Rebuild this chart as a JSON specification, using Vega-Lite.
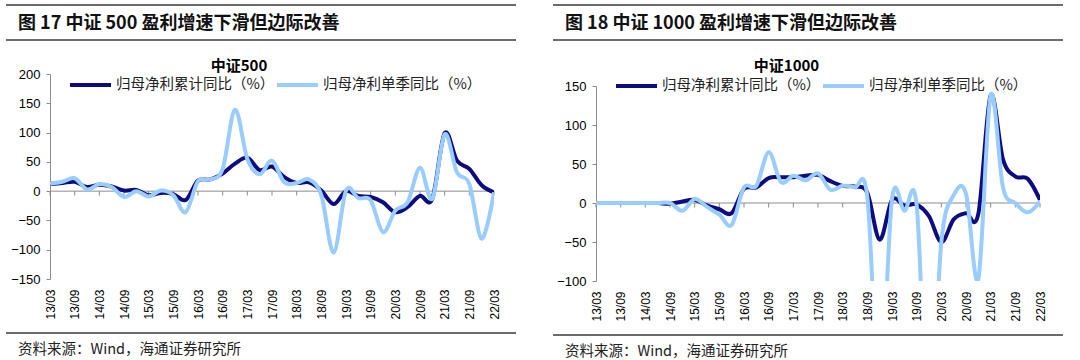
{
  "$schema": "https://vega.github.io/schema/vega-lite/v6.json",
  "padding": {"left": 5, "top": 4, "right": 0, "bottom": 0},
  "background": "white",
  "config": {"view": {"stroke": null}, "font": "Liberation Sans", "axis": {"labelOverlap": false}, "axisY": {"labelOverlap": false}, "axisQuantitative": {"labelOverlap": false}},
  "datasets": {
    "c500": [
      {"q": "13/03", "cum": 12.5, "sq": 13}, {"q": "13/06", "cum": 14, "sq": 16}, {"q": "13/09", "cum": 16, "sq": 22}, {"q": "13/12", "cum": 7, "sq": 3},
      {"q": "14/03", "cum": 11, "sq": 12}, {"q": "14/06", "cum": 8, "sq": 7}, {"q": "14/09", "cum": 1, "sq": -10}, {"q": "14/12", "cum": 2, "sq": 0},
      {"q": "15/03", "cum": -7, "sq": -9}, {"q": "15/06", "cum": -3, "sq": 1}, {"q": "15/09", "cum": -5, "sq": -7}, {"q": "15/12", "cum": -15, "sq": -36},
      {"q": "16/03", "cum": 18, "sq": 17}, {"q": "16/06", "cum": 20, "sq": 20}, {"q": "16/09", "cum": 30, "sq": 38}, {"q": "16/12", "cum": 47, "sq": 139},
      {"q": "17/03", "cum": 57, "sq": 55}, {"q": "17/06", "cum": 36, "sq": 29}, {"q": "17/09", "cum": 42, "sq": 52}, {"q": "17/12", "cum": 24, "sq": 15},
      {"q": "18/03", "cum": 14, "sq": 14}, {"q": "18/06", "cum": 15, "sq": 20}, {"q": "18/09", "cum": 1, "sq": -7}, {"q": "18/12", "cum": -22, "sq": -105},
      {"q": "19/03", "cum": 0, "sq": 1}, {"q": "19/06", "cum": -8, "sq": -12}, {"q": "19/09", "cum": -10, "sq": -16}, {"q": "19/12", "cum": -19, "sq": -70},
      {"q": "20/03", "cum": -36, "sq": -33}, {"q": "20/06", "cum": -27, "sq": -19}, {"q": "20/09", "cum": -8, "sq": 40}, {"q": "20/12", "cum": -13, "sq": -13},
      {"q": "21/03", "cum": 99, "sq": 97}, {"q": "21/06", "cum": 52, "sq": 32}, {"q": "21/09", "cum": 38, "sq": 12}, {"q": "21/12", "cum": 10, "sq": -81},
      {"q": "22/03", "cum": -2, "sq": -2}
    ],
    "c1000": [
      {"q": "13/03", "cum": 0, "sq": 0}, {"q": "13/06", "cum": 0, "sq": 0}, {"q": "13/09", "cum": 0, "sq": 0}, {"q": "13/12", "cum": 0, "sq": 0},
      {"q": "14/03", "cum": 0, "sq": 0}, {"q": "14/06", "cum": 0, "sq": 0}, {"q": "14/09", "cum": -1, "sq": 0}, {"q": "14/12", "cum": 2, "sq": -10},
      {"q": "15/03", "cum": 4, "sq": 5}, {"q": "15/06", "cum": -3, "sq": -5}, {"q": "15/09", "cum": -8, "sq": -15}, {"q": "15/12", "cum": -13, "sq": -28},
      {"q": "16/03", "cum": 18, "sq": 20}, {"q": "16/06", "cum": 20, "sq": 22}, {"q": "16/09", "cum": 32, "sq": 65}, {"q": "16/12", "cum": 33, "sq": 27},
      {"q": "17/03", "cum": 33, "sq": 35}, {"q": "17/06", "cum": 35, "sq": 29}, {"q": "17/09", "cum": 36, "sq": 38}, {"q": "17/12", "cum": 28, "sq": 17},
      {"q": "18/03", "cum": 22, "sq": 22}, {"q": "18/06", "cum": 21, "sq": 20}, {"q": "18/09", "cum": 13, "sq": 8}, {"q": "18/12", "cum": -47, "sq": -250},
      {"q": "19/03", "cum": 4, "sq": 5}, {"q": "19/06", "cum": -3, "sq": -10}, {"q": "19/09", "cum": -2, "sq": -3}, {"q": "19/12", "cum": -17, "sq": -300},
      {"q": "20/03", "cum": -50, "sq": -50}, {"q": "20/06", "cum": -21, "sq": 10}, {"q": "20/09", "cum": -13, "sq": 12}, {"q": "20/12", "cum": -14, "sq": -97},
      {"q": "21/03", "cum": 138, "sq": 138}, {"q": "21/06", "cum": 56, "sq": 20}, {"q": "21/09", "cum": 34, "sq": 0}, {"q": "21/12", "cum": 31, "sq": -12},
      {"q": "22/03", "cum": 4, "sq": 2}
    ]
  },
  "spacing": 35,
  "resolve": {"scale": {"color": "independent"}, "legend": {"color": "independent"}},
  "hconcat": [
    {
      "spacing": 12,
      "resolve": {"scale": {"color": "independent"}, "legend": {"color": "independent"}},
      "vconcat": [
        {
          "width": 510, "height": 42,
          "data": {"values": [{"t": "图 17 中证 500 盈利增速下滑但边际改善"}]},
          "layer": [
            {"mark": {"type": "rule", "color": "#3a3a3a", "strokeWidth": 1.4}, "encoding": {"y": {"datum": 42, "type": "quantitative", "scale": {"domain": [0, 42]}, "axis": null}}},
            {"mark": {"type": "rule", "color": "#3a3a3a", "strokeWidth": 1.4}, "encoding": {"y": {"datum": 7, "type": "quantitative", "scale": {"domain": [0, 42]}, "axis": null}}},
            {"mark": {"type": "text", "align": "left", "baseline": "middle", "font": "Noto Sans CJK SC", "fontSize": 18, "fontWeight": "bold", "color": "#111"},
             "encoding": {"text": {"field": "t"}, "x": {"datum": 12, "type": "quantitative", "scale": {"domain": [0, 510]}, "axis": null}, "y": {"datum": 23, "type": "quantitative", "scale": {"domain": [0, 42]}, "axis": null}}}
          ]
        },
        {
          "width": 488, "height": 205,
          "title": {"text": "中证500", "font": "Noto Sans CJK SC", "fontSize": 15, "fontWeight": "bold", "color": "#000", "offset": -6, "dx": -11, "frame": "group"},
          "data": {"name": "c500"},
          "layer": [
            {"transform": [{"filter": "datum.q == '13/03'"}], "mark": {"type": "rule", "color": "#8c8c8c", "strokeWidth": 1},
             "encoding": {
               "x": {"datum": "13/03", "type": "ordinal", "scale": {"type": "point", "padding": 0, "range": [44, 488]}},
               "x2": {"datum": "22/03"},
               "y": {"datum": 0, "type": "quantitative", "scale": {"domain": [-150, 200], "nice": false}, "axis": {"values": [-150, -100, -50, 0, 50, 100, 150, 200], "labelOverlap": false, "grid": false, "offset": -44, "domainColor": "#8c8c8c", "tickColor": "#8c8c8c", "tickSize": 4, "labelPadding": 6, "labelFontSize": 13, "labelColor": "#000", "title": null}}}},
            {"transform": [{"filter": "substring(datum.q, 3, 5) == '03' || substring(datum.q, 3, 5) == '09'"}], "mark": {"type": "rule", "color": "#8c8c8c", "strokeWidth": 1},
             "encoding": {
               "x": {"field": "q", "type": "ordinal", "scale": {"type": "point", "padding": 0, "range": [44, 488]}, "axis": {"values": ["13/03","13/09","14/03","14/09","15/03","15/09","16/03","16/09","17/03","17/09","18/03","18/09","19/03","19/09","20/03","20/09","21/03","21/09","22/03"], "domain": false, "ticks": false, "labelAngle": -90, "labelPadding": 10, "labelFontSize": 12, "labelColor": "#000", "title": null}},
               "y": {"datum": 0, "type": "quantitative", "scale": {"domain": [-150, 200], "nice": false}, "axis": {"values": [-150, -100, -50, 0, 50, 100, 150, 200], "labelOverlap": false, "grid": false, "offset": -44, "domainColor": "#8c8c8c", "tickColor": "#8c8c8c", "tickSize": 4, "labelPadding": 6, "labelFontSize": 13, "labelColor": "#000", "title": null}},
               "y2": {"datum": -7.5}}},
            {"mark": {"type": "line", "interpolate": "cardinal", "strokeWidth": 4, "clip": true},
             "encoding": {
               "x": {"field": "q", "type": "ordinal", "scale": {"type": "point", "padding": 0, "range": [44, 488]}, "axis": {"values": ["13/03","13/09","14/03","14/09","15/03","15/09","16/03","16/09","17/03","17/09","18/03","18/09","19/03","19/09","20/03","20/09","21/03","21/09","22/03"], "domain": false, "ticks": false, "labelAngle": -90, "labelPadding": 10, "labelFontSize": 12, "labelColor": "#000", "title": null}},
               "y": {"field": "cum", "type": "quantitative", "scale": {"domain": [-150, 200], "nice": false}, "axis": {"values": [-150, -100, -50, 0, 50, 100, 150, 200], "labelOverlap": false, "grid": false, "offset": -44, "domainColor": "#8c8c8c", "tickColor": "#8c8c8c", "tickSize": 4, "labelPadding": 6, "labelFontSize": 13, "labelColor": "#000", "title": null}},
               "color": {"datum": "归母净利累计同比（%）", "type": "nominal", "scale": {"domain": ["归母净利累计同比（%）", "归母净利单季同比（%）"], "range": ["#0c0c80", "#99ccff"]},
                 "legend": {"orient": "none", "legendX": 62, "legendY": 3, "direction": "horizontal", "title": null, "symbolType": "stroke", "symbolStrokeWidth": 4, "symbolSize": 1681, "clipHeight": 16, "labelFont": "Noto Sans CJK SC", "labelFontSize": 14.5, "labelColor": "#222", "columnPadding": -10, "labelOffset": 3, "padding": 0}}}},
            {"mark": {"type": "line", "interpolate": "cardinal", "strokeWidth": 4, "clip": true},
             "encoding": {
               "x": {"field": "q", "type": "ordinal", "scale": {"type": "point", "padding": 0, "range": [44, 488]}, "axis": {"values": ["13/03","13/09","14/03","14/09","15/03","15/09","16/03","16/09","17/03","17/09","18/03","18/09","19/03","19/09","20/03","20/09","21/03","21/09","22/03"], "domain": false, "ticks": false, "labelAngle": -90, "labelPadding": 10, "labelFontSize": 12, "labelColor": "#000", "title": null}},
               "y": {"field": "sq", "type": "quantitative", "scale": {"domain": [-150, 200], "nice": false}, "axis": {"values": [-150, -100, -50, 0, 50, 100, 150, 200], "labelOverlap": false, "grid": false, "offset": -44, "domainColor": "#8c8c8c", "tickColor": "#8c8c8c", "tickSize": 4, "labelPadding": 6, "labelFontSize": 13, "labelColor": "#000", "title": null}},
               "color": {"datum": "归母净利单季同比（%）", "type": "nominal"}}}
          ]
        },
        {
          "width": 510, "height": 26,
          "data": {"values": [{"t": "资料来源：Wind，海通证券研究所"}]},
          "layer": [
            {"mark": {"type": "rule", "color": "#3a3a3a", "strokeWidth": 1.4}, "encoding": {"y": {"datum": 26, "type": "quantitative", "scale": {"domain": [0, 26]}, "axis": null}}},
            {"mark": {"type": "text", "align": "left", "baseline": "middle", "font": "Noto Sans CJK SC", "fontSize": 14.5, "color": "#222"},
             "encoding": {"text": {"field": "t"}, "x": {"datum": 12, "type": "quantitative", "scale": {"domain": [0, 510]}, "axis": null}, "y": {"datum": 9, "type": "quantitative", "scale": {"domain": [0, 26]}, "axis": null}}}
          ]
        }
      ]
    },
    {
      "spacing": 12,
      "resolve": {"scale": {"color": "independent"}, "legend": {"color": "independent"}},
      "vconcat": [
        {
          "width": 510, "height": 42,
          "data": {"values": [{"t": "图 18 中证 1000 盈利增速下滑但边际改善"}]},
          "layer": [
            {"mark": {"type": "rule", "color": "#3a3a3a", "strokeWidth": 1.4}, "encoding": {"y": {"datum": 42, "type": "quantitative", "scale": {"domain": [0, 42]}, "axis": null}}},
            {"mark": {"type": "rule", "color": "#3a3a3a", "strokeWidth": 1.4}, "encoding": {"y": {"datum": 7, "type": "quantitative", "scale": {"domain": [0, 42]}, "axis": null}}},
            {"mark": {"type": "text", "align": "left", "baseline": "middle", "font": "Noto Sans CJK SC", "fontSize": 18, "fontWeight": "bold", "color": "#111"},
             "encoding": {"text": {"field": "t"}, "x": {"datum": 12, "type": "quantitative", "scale": {"domain": [0, 510]}, "axis": null}, "y": {"datum": 23, "type": "quantitative", "scale": {"domain": [0, 42]}, "axis": null}}}
          ]
        },
        {
          "width": 487, "height": 195,
          "title": {"text": "中证1000", "font": "Noto Sans CJK SC", "fontSize": 15, "fontWeight": "bold", "color": "#000", "offset": 4, "dx": -10, "frame": "group"},
          "data": {"name": "c1000"},
          "layer": [
            {"transform": [{"filter": "datum.q == '13/03'"}], "mark": {"type": "rule", "color": "#8c8c8c", "strokeWidth": 1},
             "encoding": {
               "x": {"datum": "13/03", "type": "ordinal", "scale": {"type": "point", "padding": 0, "range": [43, 487]}},
               "x2": {"datum": "22/03"},
               "y": {"datum": 0, "type": "quantitative", "scale": {"domain": [-100, 150], "nice": false}, "axis": {"values": [-100, -50, 0, 50, 100, 150], "labelOverlap": false, "grid": false, "offset": -43, "domainColor": "#8c8c8c", "tickColor": "#8c8c8c", "tickSize": 4, "labelPadding": 6, "labelFontSize": 13, "labelColor": "#000", "title": null}}}},
            {"transform": [{"filter": "substring(datum.q, 3, 5) == '03' || substring(datum.q, 3, 5) == '09'"}], "mark": {"type": "rule", "color": "#8c8c8c", "strokeWidth": 1},
             "encoding": {
               "x": {"field": "q", "type": "ordinal", "scale": {"type": "point", "padding": 0, "range": [43, 487]}, "axis": {"values": ["13/03","13/09","14/03","14/09","15/03","15/09","16/03","16/09","17/03","17/09","18/03","18/09","19/03","19/09","20/03","20/09","21/03","21/09","22/03"], "domain": false, "ticks": false, "labelAngle": -90, "labelPadding": 10, "labelFontSize": 12, "labelColor": "#000", "title": null}},
               "y": {"datum": 0, "type": "quantitative", "scale": {"domain": [-100, 150], "nice": false}, "axis": {"values": [-100, -50, 0, 50, 100, 150], "labelOverlap": false, "grid": false, "offset": -43, "domainColor": "#8c8c8c", "tickColor": "#8c8c8c", "tickSize": 4, "labelPadding": 6, "labelFontSize": 13, "labelColor": "#000", "title": null}},
               "y2": {"datum": -5.8}}},
            {"mark": {"type": "line", "interpolate": "cardinal", "strokeWidth": 4, "clip": true},
             "encoding": {
               "x": {"field": "q", "type": "ordinal", "scale": {"type": "point", "padding": 0, "range": [43, 487]}, "axis": {"values": ["13/03","13/09","14/03","14/09","15/03","15/09","16/03","16/09","17/03","17/09","18/03","18/09","19/03","19/09","20/03","20/09","21/03","21/09","22/03"], "domain": false, "ticks": false, "labelAngle": -90, "labelPadding": 10, "labelFontSize": 12, "labelColor": "#000", "title": null}},
               "y": {"field": "cum", "type": "quantitative", "scale": {"domain": [-100, 150], "nice": false}, "axis": {"values": [-100, -50, 0, 50, 100, 150], "labelOverlap": false, "grid": false, "offset": -43, "domainColor": "#8c8c8c", "tickColor": "#8c8c8c", "tickSize": 4, "labelPadding": 6, "labelFontSize": 13, "labelColor": "#000", "title": null}},
               "color": {"datum": "归母净利累计同比（%）", "type": "nominal", "scale": {"domain": ["归母净利累计同比（%）", "归母净利单季同比（%）"], "range": ["#0c0c80", "#99ccff"]},
                 "legend": {"orient": "none", "legendX": 61, "legendY": -8, "direction": "horizontal", "title": null, "symbolType": "stroke", "symbolStrokeWidth": 4, "symbolSize": 1681, "clipHeight": 16, "labelFont": "Noto Sans CJK SC", "labelFontSize": 14.5, "labelColor": "#222", "columnPadding": -10, "labelOffset": 3, "padding": 0}}}},
            {"mark": {"type": "line", "interpolate": "cardinal", "strokeWidth": 4, "clip": true},
             "encoding": {
               "x": {"field": "q", "type": "ordinal", "scale": {"type": "point", "padding": 0, "range": [43, 487]}, "axis": {"values": ["13/03","13/09","14/03","14/09","15/03","15/09","16/03","16/09","17/03","17/09","18/03","18/09","19/03","19/09","20/03","20/09","21/03","21/09","22/03"], "domain": false, "ticks": false, "labelAngle": -90, "labelPadding": 10, "labelFontSize": 12, "labelColor": "#000", "title": null}},
               "y": {"field": "sq", "type": "quantitative", "scale": {"domain": [-100, 150], "nice": false}, "axis": {"values": [-100, -50, 0, 50, 100, 150], "labelOverlap": false, "grid": false, "offset": -43, "domainColor": "#8c8c8c", "tickColor": "#8c8c8c", "tickSize": 4, "labelPadding": 6, "labelFontSize": 13, "labelColor": "#000", "title": null}},
               "color": {"datum": "归母净利单季同比（%）", "type": "nominal"}}}
          ]
        },
        {
          "width": 510, "height": 26,
          "data": {"values": [{"t": "资料来源：Wind，海通证券研究所"}]},
          "layer": [
            {"mark": {"type": "rule", "color": "#3a3a3a", "strokeWidth": 1.4}, "encoding": {"y": {"datum": 26, "type": "quantitative", "scale": {"domain": [0, 26]}, "axis": null}}},
            {"mark": {"type": "text", "align": "left", "baseline": "middle", "font": "Noto Sans CJK SC", "fontSize": 14.5, "color": "#222"},
             "encoding": {"text": {"field": "t"}, "x": {"datum": 12, "type": "quantitative", "scale": {"domain": [0, 510]}, "axis": null}, "y": {"datum": 9, "type": "quantitative", "scale": {"domain": [0, 26]}, "axis": null}}}
          ]
        }
      ]
    }
  ]
}
